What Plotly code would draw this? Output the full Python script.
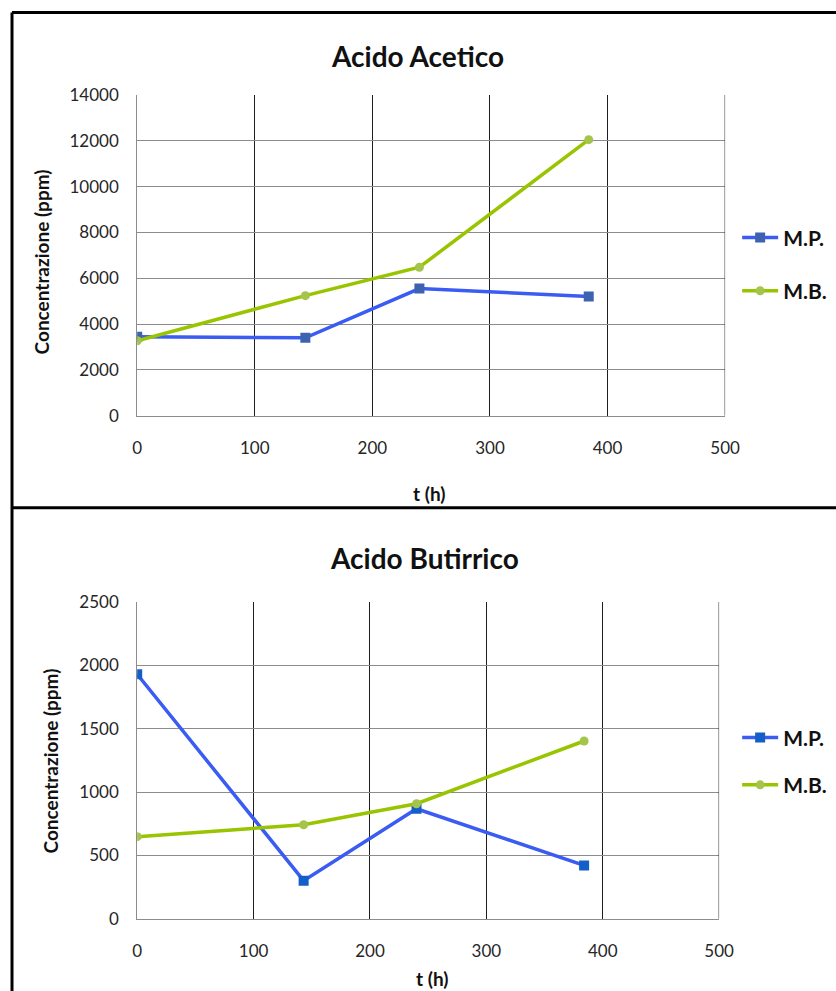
import plotly.graph_objects as go

# ---- data ----
t_hours = [0, 143, 240, 384]
acetico_mp = [3450, 3400, 5550, 5200]
acetico_mb = [3270, 5240, 6480, 12050]
butirrico_mp = [1930, 300, 868, 421]
butirrico_mb = [648, 742, 908, 1403]
x_ticks = [0, 100, 200, 300, 400, 500]
series_names = ["M.P.", "M.B."]
titles = ["Acido Acetico", "Acido Butirrico"]
y_title = "Concentrazione (ppm)"
x_title = "t (h)"

# mapping from target picture pixels to figure pixels (measured from earlier renders)
SX, SY = 0.975, 0.977
OX, OY = 5.0, 11.2
W = int(round((836 - OX) / SX))
H = int(round((991 - OY) / SY))
FONT = "Lato, Open Sans, sans-serif"
MP_LINE = "#3a5cf2"
MB_LINE = "#99c400"
MB_MARK = "#a4c44c"
GRID_V = "#1e1e1e"


def px(x):
    return ((x - OX) / SX) / W


def py(y):
    return 1 - ((y - OY) / SY) / H


fig = go.Figure()

fig.add_trace(go.Scatter(x=t_hours, y=acetico_mp, name=series_names[0], mode="lines+markers",
                         line=dict(color=MP_LINE, width=3.5),
                         marker=dict(symbol="square", size=10, color="#3d63b0"),
                         xaxis="x", yaxis="y", legend="legend", legendgroup="a1"))
fig.add_trace(go.Scatter(x=t_hours, y=acetico_mb, name=series_names[1], mode="lines+markers",
                         line=dict(color=MB_LINE, width=3.5),
                         marker=dict(symbol="circle", size=9, color=MB_MARK),
                         xaxis="x", yaxis="y", legend="legend", legendgroup="a2"))
fig.add_trace(go.Scatter(x=t_hours, y=butirrico_mp, name=series_names[0], mode="lines+markers",
                         line=dict(color=MP_LINE, width=3.5),
                         marker=dict(symbol="square", size=10, color="#145ec8"),
                         xaxis="x2", yaxis="y2", legend="legend2", legendgroup="b1"))
fig.add_trace(go.Scatter(x=t_hours, y=butirrico_mb, name=series_names[1], mode="lines+markers",
                         line=dict(color=MB_LINE, width=3.5),
                         marker=dict(symbol="circle", size=9, color=MB_MARK),
                         xaxis="x2", yaxis="y2", legend="legend2", legendgroup="b2"))

axis_common_x = dict(range=[0, 500], tickvals=x_ticks, showgrid=True, gridcolor=GRID_V, gridwidth=1,
                     showline=True, linecolor="#8c8c8c", linewidth=1, zeroline=False, ticks="",
                     tickfont=dict(family=FONT, size=17, color="#262626"), ticklabelstandoff=17,
                     fixedrange=True)
axis_common_y = dict(showgrid=True, gridcolor="#8c8c8c", gridwidth=1, tickformat="d",
                     showline=True, linecolor="#8c8c8c", linewidth=1, zeroline=False, ticks="",
                     tickfont=dict(family=FONT, size=17, color="#262626"), ticklabelstandoff=14,
                     fixedrange=True)

legend_font = dict(family=FONT, size=21, color="#111", weight="bold")
fig.update_layout(
    width=W, height=H,
    margin=dict(l=0, r=0, t=0, b=0),
    paper_bgcolor="white", plot_bgcolor="white",
    font=dict(family=FONT, color="#111"),
    xaxis=dict(domain=[px(137), px(724)], anchor="y", **axis_common_x),
    yaxis=dict(domain=[py(415), py(95)], anchor="x", range=[0, 14000], dtick=2000, **axis_common_y),
    xaxis2=dict(domain=[px(137), px(718)], anchor="y2", **axis_common_x),
    yaxis2=dict(domain=[py(917), py(601)], anchor="x2", range=[0, 2500], dtick=500, **axis_common_y),
    legend=dict(x=px(736), y=py(264), xanchor="left", yanchor="middle", tracegroupgap=23,
                font=legend_font, bgcolor="rgba(0,0,0,0)", itemwidth=36),
    legend2=dict(x=px(736), y=py(760), xanchor="left", yanchor="middle", tracegroupgap=17,
                 font=legend_font, bgcolor="rgba(0,0,0,0)", itemwidth=36),
    showlegend=True,
)

annotations = [
    dict(text="<b>" + titles[0] + "</b>", x=px(417), y=py(56), font=dict(size=28)),
    dict(text="<b>" + titles[1] + "</b>", x=px(424), y=py(557), font=dict(size=28)),
    dict(text="<b>" + y_title + "</b>", x=px(41), y=py(262), textangle=-90, font=dict(size=19)),
    dict(text="<b>" + y_title + "</b>", x=px(50), y=py(760), textangle=-90, font=dict(size=19)),
    dict(text="<b>" + x_title + "</b>", x=px(429), y=py(493), font=dict(size=19)),
    dict(text="<b>" + x_title + "</b>", x=px(432), y=py(977), font=dict(size=19)),
]
for a in annotations:
    a.update(xref="paper", yref="paper", showarrow=False, xanchor="center", yanchor="middle")
    a["font"].update(family=FONT, color="#111")
fig.update_layout(annotations=annotations)

line_style = dict(color="black", width=3)
top_y = 1 - 1.5 / H
x_end = x_ticks[-1]
fig.update_layout(shapes=[
    dict(type="line", xref="paper", yref="paper", x0=px(12), x1=px(12), y0=top_y, y1=0, line=line_style),
    dict(type="line", xref="paper", yref="paper", x0=px(12), x1=1, y0=top_y, y1=top_y, line=line_style),
    dict(type="line", xref="paper", yref="paper", x0=px(12), x1=1, y0=py(507), y1=py(507), line=line_style),
    # closing grid line at the right end of each plot area
    dict(type="line", xref="x", yref="y domain", x0=x_end, x1=x_end, y0=0, y1=1,
         line=dict(color=GRID_V, width=1)),
    dict(type="line", xref="x2", yref="y2 domain", x0=x_end, x1=x_end, y0=0, y1=1,
         line=dict(color=GRID_V, width=1)),
])

fig.write_html("out.html", config={"displayModeBar": False},
               post_script="document.body.style.margin='0px';document.body.style.overflow='hidden';")
